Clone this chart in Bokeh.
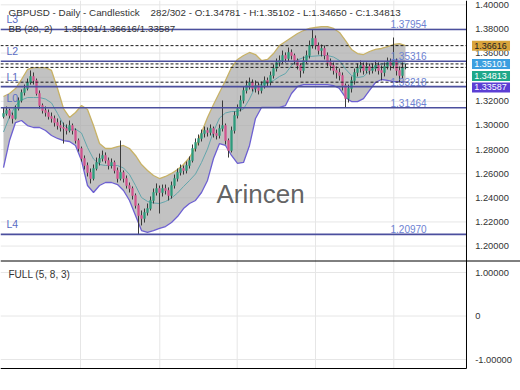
from bokeh.plotting import figure
from bokeh.models import Range1d, Label, ColumnDataSource
from bokeh.core.properties import value
from bokeh.embed import file_html
from bokeh.resources import INLINE

FONT = "Liberation Sans"
NB = "\u00a0"

# ---------------- data ----------------
first_open = 1.3074
closes = [
    1.3099, 1.3124, 1.3082, 1.3058, 1.3140, 1.3207, 1.3273, 1.3306, 1.3356, 1.3406,
    1.3373, 1.3265, 1.3165, 1.3124, 1.3107, 1.3074, 1.3058, 1.3024, 1.2999, 1.2983,
    1.2975, 1.2958, 1.2999, 1.2958, 1.2875, 1.2809, 1.2726, 1.2668, 1.2610, 1.2560,
    1.2643, 1.2693, 1.2726, 1.2751, 1.2709, 1.2668, 1.2693, 1.2627, 1.2560, 1.2610,
    1.2560, 1.2502, 1.2477, 1.2419, 1.2336, 1.2253, 1.2229, 1.2278, 1.2311, 1.2378,
    1.2444, 1.2477, 1.2444, 1.2477, 1.2461, 1.2419, 1.2502, 1.2560, 1.2610, 1.2643,
    1.2627, 1.2668, 1.2709, 1.2809, 1.2859, 1.2892, 1.2933, 1.2958, 1.2942, 1.2975,
    1.2933, 1.2917, 1.2975, 1.2999, 1.2875, 1.2792, 1.2958, 1.3082, 1.3140, 1.3207,
    1.3290, 1.3331, 1.3356, 1.3306, 1.3331, 1.3290, 1.3331, 1.3373, 1.3356, 1.3414,
    1.3472, 1.3522, 1.3538, 1.3580, 1.3555, 1.3605, 1.3580, 1.3538, 1.3497, 1.3456,
    1.3538, 1.3580, 1.3663, 1.3721, 1.3663, 1.3621, 1.3638, 1.3580, 1.3522, 1.3497,
    1.3456, 1.3439, 1.3414, 1.3331, 1.3223, 1.3306, 1.3373, 1.3439, 1.3472, 1.3497,
    1.3456, 1.3489, 1.3456, 1.3472, 1.3497, 1.3456, 1.3439, 1.3489, 1.3522, 1.3497,
    1.3538, 1.3456, 1.3414, 1.34781, 1.34813]
highs = [
    1.3149, 1.3157, 1.3140, 1.3107, 1.3165, 1.3232, 1.3298, 1.3339, 1.3389, 1.3456,
    1.3439, 1.3389, 1.3290, 1.3182, 1.3157, 1.3132, 1.3107, 1.3082, 1.3058, 1.3041,
    1.3024, 1.3008, 1.3041, 1.3016, 1.2975, 1.2892, 1.2825, 1.2751, 1.2693, 1.2643,
    1.2676, 1.2734, 1.2767, 1.2792, 1.2776, 1.2734, 1.2726, 1.2709, 1.2651, 1.2875,
    1.2627, 1.2585, 1.2527, 1.2494, 1.2436, 1.2353, 1.2295, 1.2311, 1.2353, 1.2411,
    1.2477, 1.2519, 1.2502, 1.2510, 1.2510, 1.2486, 1.2535, 1.2593, 1.2643, 1.2676,
    1.2668, 1.2701, 1.2743, 1.2842, 1.2892, 1.2925, 1.2966, 1.2991, 1.2983, 1.3008,
    1.2991, 1.2966, 1.3008, 1.3207, 1.3016, 1.2892, 1.2991, 1.3116, 1.3174, 1.3248,
    1.3323, 1.3373, 1.3397, 1.3381, 1.3373, 1.3356, 1.3364, 1.3406, 1.3397, 1.3447,
    1.3505, 1.3555, 1.3580, 1.3621, 1.3605, 1.3646, 1.3630, 1.3596, 1.3555, 1.3514,
    1.3572, 1.3621, 1.3704, 1.37954, 1.3746, 1.3688, 1.3671, 1.3663, 1.3605, 1.3555,
    1.3522, 1.3489, 1.3472, 1.3439, 1.3348, 1.3339, 1.3406, 1.3472, 1.3514, 1.3538,
    1.3522, 1.3522, 1.3514, 1.3514, 1.3538, 1.3522, 1.3497, 1.3522, 1.3563, 1.3555,
    1.3729, 1.3555, 1.3489, 1.3522, 1.35102]
lows = [
    1.3058, 1.3082, 1.3058, 1.3016, 1.3049, 1.3124, 1.3190, 1.3248, 1.3290, 1.3339,
    1.3339, 1.3248, 1.3140, 1.3099, 1.3074, 1.3049, 1.3024, 1.2991, 1.2966, 1.2950,
    1.2850, 1.2925, 1.2942, 1.2925, 1.2850, 1.2784, 1.2701, 1.2635, 1.2577, 1.2519,
    1.2544, 1.2627, 1.2668, 1.2701, 1.2685, 1.2635, 1.2643, 1.2602, 1.2527, 1.2544,
    1.2527, 1.2477, 1.2444, 1.2386, 1.2311, 1.20970, 1.2171, 1.2195, 1.2253, 1.2295,
    1.2353, 1.2419, 1.2270, 1.2411, 1.2428, 1.2378, 1.2394, 1.2477, 1.2535, 1.2585,
    1.2593, 1.2602, 1.2643, 1.2693, 1.2784, 1.2834, 1.2867, 1.2900, 1.2908, 1.2917,
    1.2900, 1.2884, 1.2892, 1.2950, 1.2842, 1.2734, 1.2776, 1.2933, 1.3058, 1.3116,
    1.3182, 1.3265, 1.3298, 1.3281, 1.3273, 1.3257, 1.3265, 1.3306, 1.3323, 1.3331,
    1.3389, 1.3447, 1.3489, 1.3514, 1.3522, 1.3530, 1.3547, 1.3505, 1.3464, 1.3397,
    1.3431, 1.3514, 1.3555, 1.3638, 1.3630, 1.3588, 1.3572, 1.3547, 1.3489, 1.3456,
    1.3422, 1.3389, 1.3373, 1.3290, 1.31464, 1.3190, 1.3273, 1.3339, 1.3406, 1.3439,
    1.3422, 1.3431, 1.3422, 1.3431, 1.3447, 1.3422, 1.3373, 1.3406, 1.3464, 1.3456,
    1.3472, 1.3414, 1.3356, 1.3389, 1.34650]

# Bollinger band (20, 2) read every second bar
band_step = 2
bb_upper = [
    1.3240, 1.3265, 1.3306, 1.3381, 1.3464, 1.3480, 1.3480, 1.3480, 1.3456, 1.3306,
    1.3140, 1.3066, 1.3107, 1.3165, 1.3132, 1.2999, 1.2850, 1.2809, 1.2809, 1.2825,
    1.2834, 1.2809, 1.2751, 1.2676, 1.2627, 1.2585, 1.2560, 1.2577, 1.2602, 1.2635,
    1.2676, 1.2734, 1.2817, 1.2942, 1.3066, 1.3174, 1.3273, 1.3373, 1.3480, 1.3547,
    1.3580, 1.3605, 1.3588, 1.3538, 1.3547, 1.3596, 1.3663, 1.3696, 1.3729, 1.3762,
    1.3787, 1.3804, 1.3812, 1.3820, 1.3820, 1.3804, 1.3771, 1.3704, 1.3630, 1.3596,
    1.3588, 1.3613, 1.3630, 1.3638, 1.3654, 1.3671, 1.3679, 1.36616]
bb_lower = [
    1.2651, 1.2875, 1.3024, 1.3041, 1.2999, 1.2983, 1.2983, 1.2958, 1.2917, 1.2892,
    1.2875, 1.2867, 1.2834, 1.2709, 1.2502, 1.2444, 1.2502, 1.2527, 1.2527, 1.2510,
    1.2461, 1.2378, 1.2253, 1.2129, 1.2113, 1.2129, 1.2146, 1.2162, 1.2195, 1.2245,
    1.2311, 1.2353, 1.2378, 1.2444, 1.2544, 1.2726, 1.2850, 1.2834, 1.2751, 1.2685,
    1.2693, 1.2834, 1.3058, 1.3149, 1.3149, 1.3149, 1.3149, 1.3165, 1.3265, 1.3323,
    1.3339, 1.3339, 1.3339, 1.3339, 1.3339, 1.3331, 1.3306, 1.3232, 1.3198, 1.3198,
    1.3223, 1.3290, 1.3356, 1.3381, 1.3373, 1.3364, 1.3364, 1.33587]

level_names = ["L3", "L2", "L1", "L0", "L4"]
level_values = [1.37954, 1.35316, 1.33218, 1.31464, 1.20970]
bb_last = [1.35101, 1.36616, 1.33587]     # mid / upper / lower
last_ohlc = [1.34781, 1.35102, 1.34650, 1.34813]
bar_no, bar_total = 282, 302
price_ticks = [1.18, 1.20, 1.22, 1.24, 1.26, 1.28, 1.30, 1.32, 1.34, 1.36, 1.38, 1.40]
osc_ticks = [-1, 0, 1]
osc_tick_labels = ["-1.00000", "0", "1.00000"]
month_ticks = [25.67, 52.1, 77.9, 104.0, 130.1]

# ---------------- layout constants (one canvas, two panes) ----------------
X0, AX, XEND = -1, 154.333, 172.333      # frame left, price-axis line, canvas right (bar units)
H = 390
PX = 0.000829                            # price per pixel in the upper pane
Y1 = 1.40358                             # price at the top edge
Y0 = Y1 - H * PX
def price_at(px):                        # price found at a given pixel row
    return Y1 - px * PX
OSC_TOP, OSC_BOT = 7.2529, -1.7126       # lower pane range spread over the full height
OSC_PX = (OSC_TOP - OSC_BOT) / H
def osc_at(px):
    return OSC_TOP - px * OSC_PX
SPLIT = 260.5                            # separator row
PANE_BOTTOM = 368                        # bottom border of the lower pane
AXIS_FONT = "9.3px"

# ---------------- derived ----------------
n = len(closes)
xs = list(range(n))
opens = [first_open] + closes[:-1]
UP, DOWN = "#2f9a7c", "#d2558f"
src = ColumnDataSource(dict(
    x=xs, h=highs, l=lows,
    top=[max(o, c) for o, c in zip(opens, closes)],
    bottom=[min(o, c) for o, c in zip(opens, closes)],
    color=[UP if c >= o else DOWN for o, c in zip(opens, closes)]))
band_x = list(range(0, n, band_step))
bb_mid = [(u + l) / 2 for u, l in zip(bb_upper, bb_lower)]

p = figure(width=520, height=H, x_range=Range1d(X0, XEND), y_range=Range1d(Y0, Y1),
           extra_y_ranges={"osc": Range1d(OSC_BOT, OSC_TOP)},
           output_backend="svg", toolbar_location=None,
           x_axis_location=None, y_axis_location=None,
           min_border_left=0, min_border_right=0, min_border_top=0, min_border_bottom=0)
p.outline_line_color = None
p.xgrid.visible = False
p.ygrid.visible = False
GRID = "#e6e6e6"

# ---- grids
p.segment(x0=X0, x1=AX, y0=price_ticks[1:], y1=price_ticks[1:], line_color=GRID, line_width=1)
p.segment(x0=month_ticks, x1=month_ticks, y0=Y1, y1=price_at(SPLIT), line_color=GRID,
          line_width=1)
p.segment(x0=X0, x1=AX, y0=osc_ticks, y1=osc_ticks, line_color=GRID, line_width=1,
          y_range_name="osc")
p.segment(x0=month_ticks, x1=month_ticks, y0=osc_at(SPLIT), y1=osc_at(PANE_BOTTOM),
          line_color=GRID, line_width=1, y_range_name="osc")

# ---- Bollinger band
p.varea(x=band_x, y1=bb_lower, y2=bb_upper, fill_color="#a8a8a8", fill_alpha=0.7)
p.line(band_x, bb_upper, line_color="#c8b266", line_width=1.3)
p.line(band_x, bb_lower, line_color="#6d60d2", line_width=1.3)
p.line(band_x, bb_mid, line_color="#63a6ac", line_width=1)

# ---- candles
p.segment(x0="x", y0="l", x1="x", y1="h", source=src, line_color="#3a3a3a", line_width=1)
p.vbar(x="x", width=0.55, top="top", bottom="bottom", fill_color="color",
       line_color="color", line_width=0.6, source=src)

# ---- horizontal levels
dashed = [bb_last[1], bb_last[0], last_ohlc[3], bb_last[2]]
p.segment(x0=X0, x1=AX, y0=dashed, y1=dashed, line_color="#1a1a1a",
          line_width=1, line_dash="3 2")
p.segment(x0=X0, x1=AX, y0=level_values, y1=level_values, line_color="#4b4f9e",
          line_width=1.6)
for name, v in zip(level_names, level_values):
    p.add_layout(Label(x=1.0, y=v, y_offset=4, text=name, text_font=FONT,
                       text_font_size="10.5px", text_color="#5a6cc4",
                       text_baseline="bottom", text_align="left"))
    p.add_layout(Label(x=129.0, y=v, y_offset=1, text=f"{v:.5f}", text_font=FONT,
                       text_font_size="10px", text_color="#6d82d2",
                       text_baseline="bottom", text_align="left"))

# ---- price axis (right)
p.text(x=AX + 2.9, y=price_ticks, text=[f"{t:.5f}" for t in price_ticks],
       text_font=value(FONT), text_font_size=AXIS_FONT, text_color="#333333",
       text_baseline="middle", text_align="left")
# lower pane covers the part of the price axis below the separator
p.quad(left=AX, right=XEND, top=price_at(SPLIT), bottom=price_at(275), fill_color="white",
       line_color=None)
p.segment(x0=AX, x1=AX, y0=Y1, y1=price_at(PANE_BOTTOM), line_color="black", line_width=1)
p.segment(x0=X0, x1=XEND, y0=price_at(SPLIT), y1=price_at(SPLIT), line_color="black",
          line_width=1)
p.segment(x0=X0, x1=AX, y0=price_at(PANE_BOTTOM), y1=price_at(PANE_BOTTOM),
          line_color="black", line_width=1)

# ---- price tags on the axis (last two nudged down so they do not overlap)
tag_values = [bb_last[1], bb_last[0], last_ohlc[3], bb_last[2]]
tag_fill = ["#d9a43c", "#3c9fe0", "#1fa88a", "#5b3ed4"]
tag_text = ["#222222", "white", "white", "white"]
tag_nudge_px = [0, 0, 8.6, 5.3]
tag_y = [v - d * PX for v, d in zip(tag_values, tag_nudge_px)]
p.rect(x=AX + 8.17, y=tag_y, width=38, height=10, width_units="screen",
       height_units="screen", fill_color=tag_fill, line_color=None)
p.text(x=AX + 2.6, y=tag_y, text=[f"{v:.5f}" for v in tag_values], text_font=value(FONT),
       text_font_size="9px", text_color=tag_text, text_baseline="middle",
       text_align="left")

# ---- oscillator axis (right, lower pane)
p.text(x=AX + 2.9, y=osc_ticks, text=osc_tick_labels, text_font=value(FONT),
       text_font_size=AXIS_FONT, text_color="#333333", text_baseline="middle",
       text_align="left", y_range_name="osc")
p.text(x=1.67, y=[osc_at(274)], text=["FULL (5, 8, 3)"], text_font=value(FONT),
       text_font_size="10px", text_color="#333333", text_baseline="middle",
       text_align="left", y_range_name="osc")

# ---- header texts
p.add_layout(Label(x=1.67, y=price_at(12), text=(
    f"GBPUSD - Daily - Candlestick{NB * 3} {bar_no}/{bar_total} - O:{last_ohlc[0]:.5f} - "
    f"H:{last_ohlc[1]:.5f} - L:{last_ohlc[2]:.5f} - C:{last_ohlc[3]:.5f}"),
    text_font=FONT, text_font_size="9.8px", text_color="#333333", text_baseline="middle"))
p.add_layout(Label(x=1.67, y=price_at(28), text=(
    f"BB (20, 2){NB * 3} {bb_last[0]:.5f}/{bb_last[1]:.5f}/{bb_last[2]:.5f}"),
    text_font=FONT, text_font_size="9.8px", text_color="#333333", text_baseline="middle"))

# ---- watermark
p.add_layout(Label(x=85.67, y=price_at(193), text="Arincen", text_font=FONT,
                   text_font_size="26px", text_color="#505050", text_alpha=0.9,
                   text_align="center", text_baseline="middle"))

open("out.html", "w").write(file_html(p, INLINE))
